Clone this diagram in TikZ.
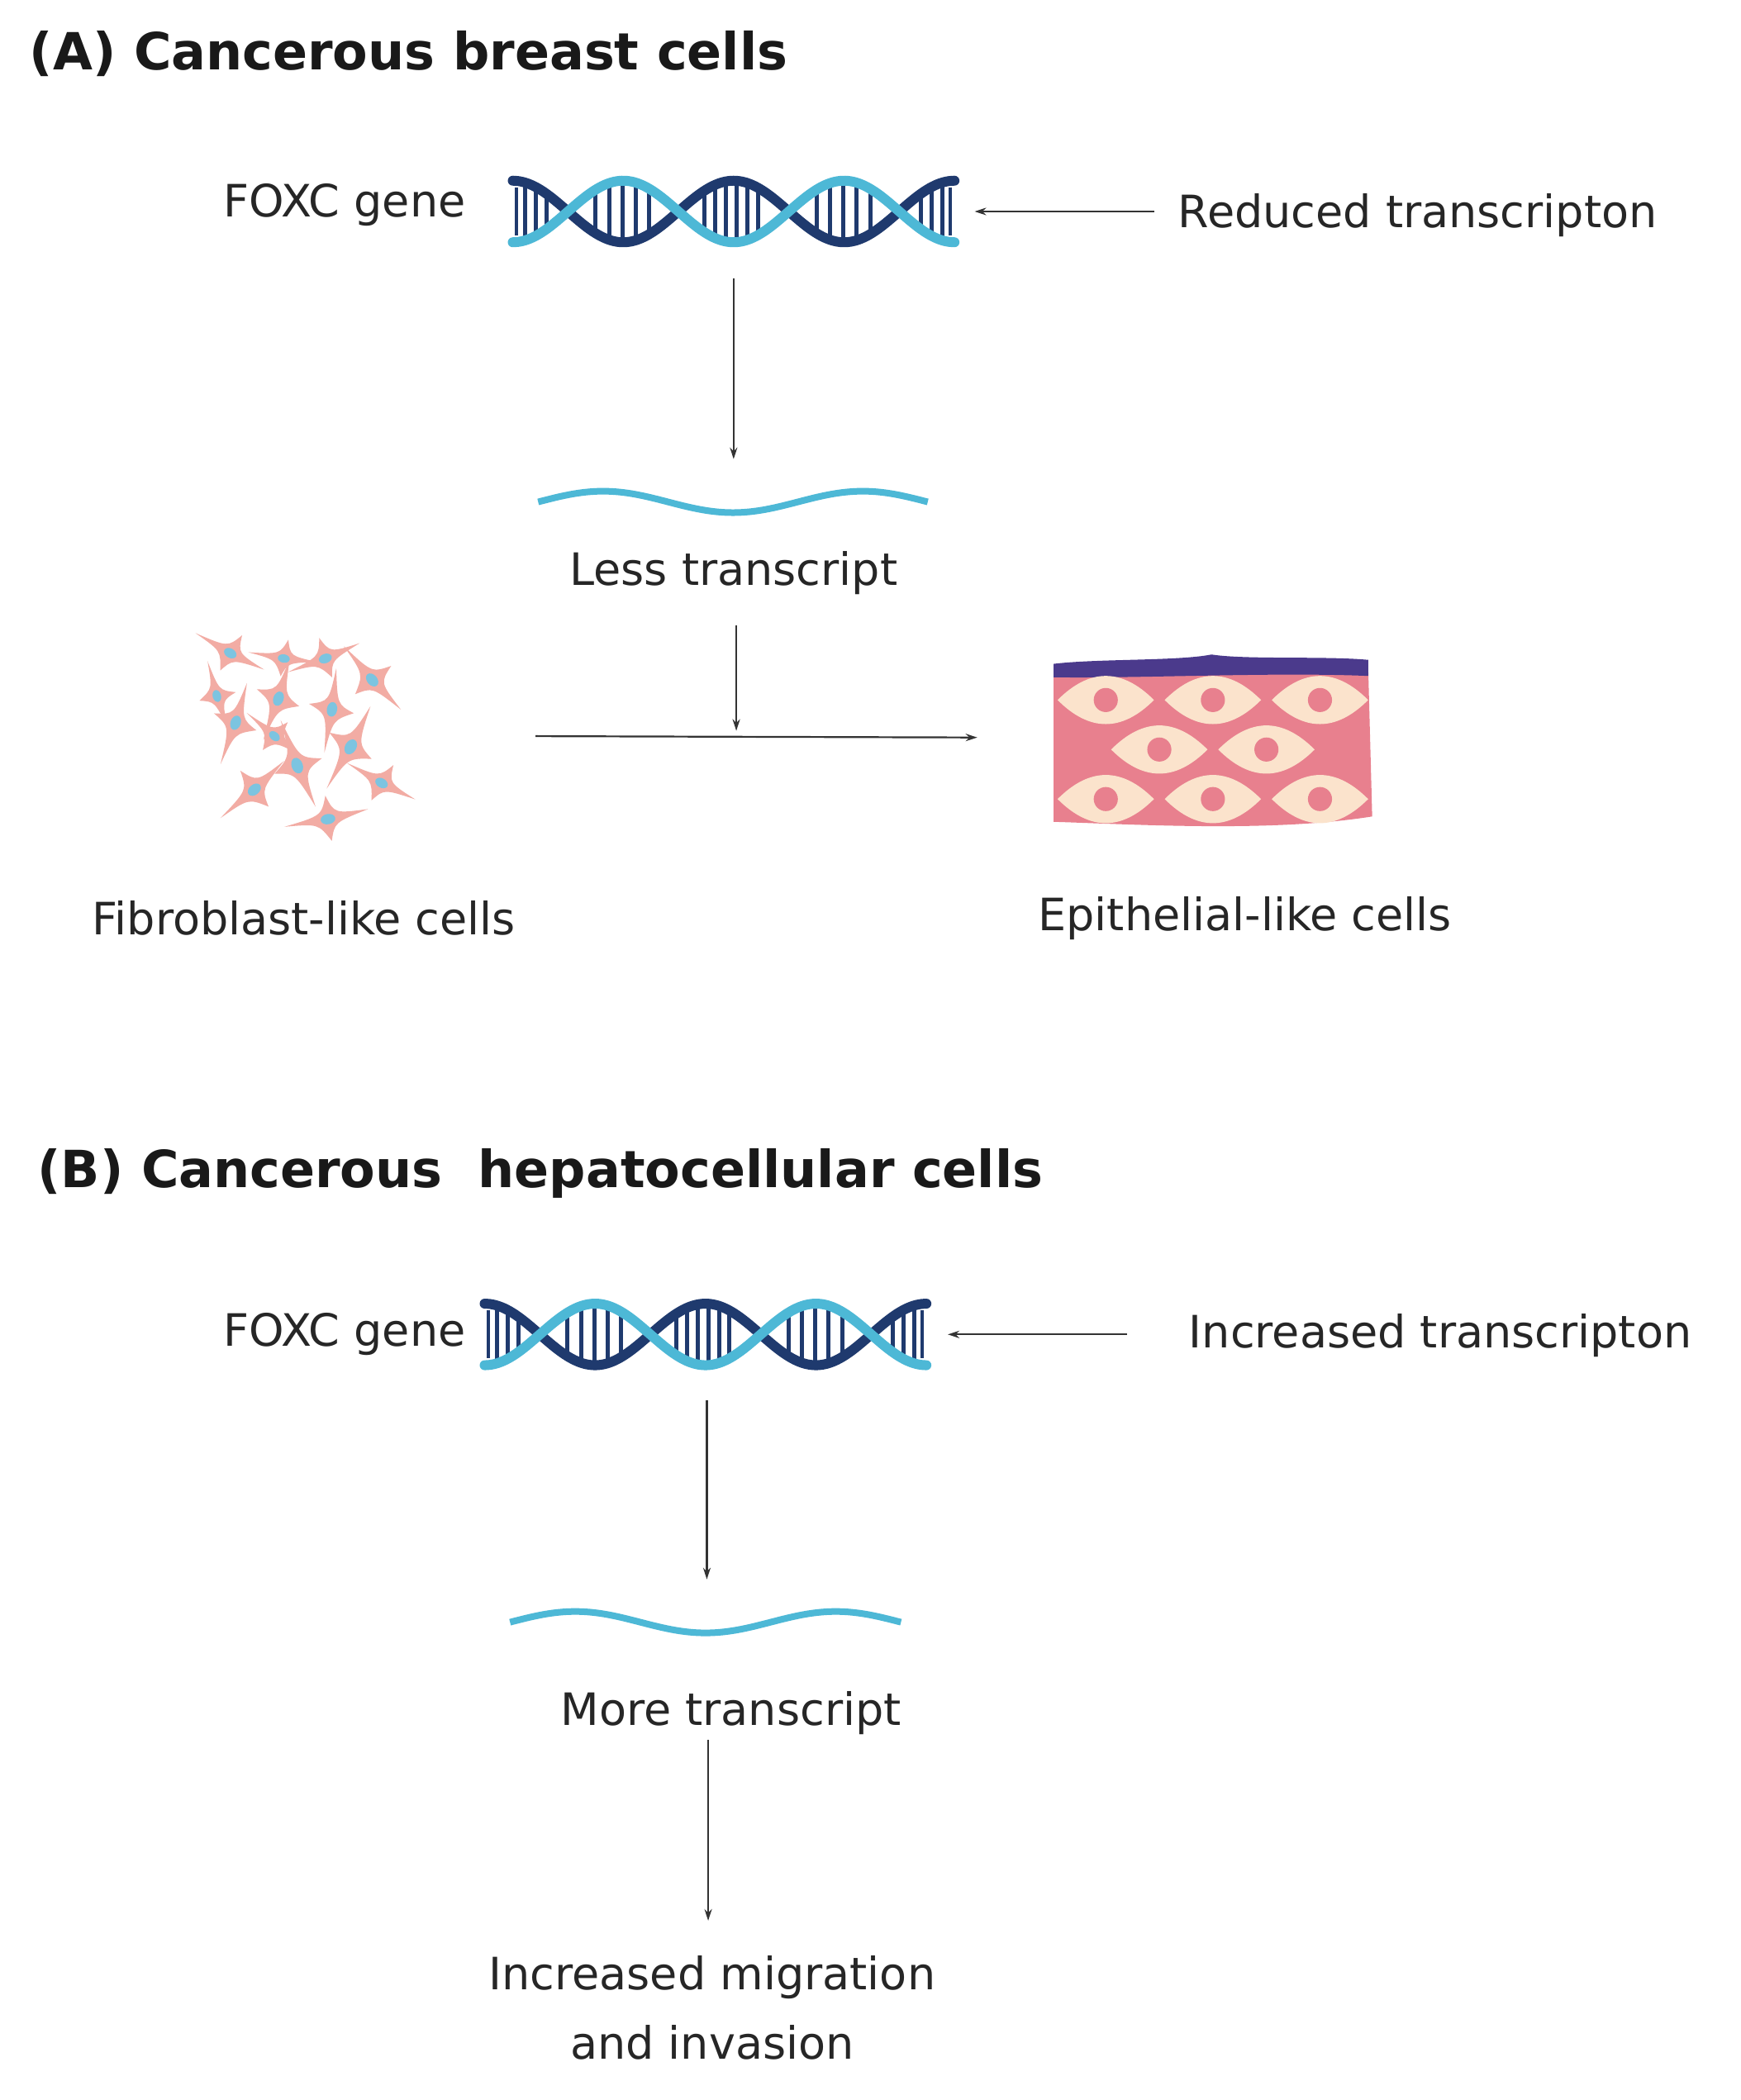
\documentclass[tikz,border=0pt]{standalone}
\usepackage{fontspec}
\setmainfont{DejaVu Sans}
\usetikzlibrary{arrows.meta}
\definecolor{navy}{HTML}{1F3A6E}
\definecolor{cyanb}{HTML}{4DB8D6}
\definecolor{fibro}{HTML}{F2ACA4}
\definecolor{nuc}{HTML}{7CC4E0}
\definecolor{epi}{HTML}{E8808E}
\definecolor{cream}{HTML}{FBE3CC}
\definecolor{purp}{HTML}{4B3A8C}
\begin{document}
\begin{tikzpicture}[x=1.62pt,y=-1.62pt,
  txt/.style={font=\fontsize{54}{64}\selectfont, text=black!85, inner sep=0pt},
  ttl/.style={font=\fontsize{62}{74}\selectfont\bfseries, text=black!90, inner sep=0pt, anchor=west},
  arr/.style={line width=2.2pt, black!80, -{Stealth[length=14pt,width=9pt]}},
  box/.style={inner sep=0pt, minimum width=#1, minimum height=95pt},
  wave/.style={cyanb, line width=8pt},
  pics/dna/.style={code={
    \foreach \r in {9,17,25,62,72,82,92,102,143,151,159,167,175,183,227,237,247,257,267,305,313,321}{
      \draw[navy, line width=5pt] (\r,{-20*cos(\r/165*360)}) -- (\r,{20*cos(\r/165*360)});}
    \draw[navy, line width=4pt] (3,-18) -- (3,18);
    \draw[navy, line width=4pt] (327,-18) -- (327,18);
    \draw[navy, line width=12pt, line cap=round] plot[domain=0:330,samples=90,smooth] (\x,{-23*cos(\x/165*360)});
    \draw[cyanb, line width=12pt, line cap=round] plot[domain=0:330,samples=90,smooth] (\x,{23*cos(\x/165*360)});
  }},
  pics/fcell/.style={code={
    \fill[fibro] (-30,0) .. controls (-7,2) .. (0,15) .. controls (4,3) .. (28,-2) .. controls (5,-3) .. (1,-16) .. controls (-4,-3) .. (-30,0);
    \fill[nuc] (0,0) ellipse (5 and 3.5);
  }},
  pics/eye/.style={code={
    \fill[cream] (-36,0) .. controls (-12,-24) and (12,-24) .. (36,0) .. controls (12,24) and (-12,24) .. (-36,0);
    \fill[epi] (0,0) circle (9);
  }}
]
\useasboundingbox (0,0) rectangle (1300,1569);
\fill[white] (0,0) rectangle (1300,1569);

% ---------- (A)
\node[ttl] (tA) at (22,40) {(A) Cancerous breast cells};
\node[txt, anchor=east] (fA) at (348,153) {FOXC gene};
\pic at (383,158) {dna};
\node[box=535pt] (dnaA) at (548,158) {};
\node[txt, anchor=west] (rA) at (880,161) {Reduced transcripton};
\draw[arr] (862,158) coordinate (rA0) -- (728,158) coordinate (dA1);
\draw[arr] (548,208) coordinate (dA2) -- (548,343) coordinate (wA0);
\draw[wave] plot[domain=402:693,samples=60,smooth] (\x,{375+8*sin((\x-402)/291*540+180)});
\node[txt] (lA) at (548,428) {Less transcript};
\draw[arr] (550,467) coordinate (lA1) -- (550,546) coordinate (hA);

% fibroblasts
\foreach \px/\py/\a/\s in {172/488/-30/1, 208/522/70/1.1, 243/492/20/1, 278/508/-50/1.1, 176/540/70/1.1, 222/572/-70/1.2, 262/558/60/1.2, 285/585/-30/1, 190/590/40/1.1, 245/612/10/1.1, 162/520/-75/0.9, 212/492/-10/0.9, 248/530/80/1.1, 205/550/-40/0.9}
  \pic[rotate=\a, scale=\s] at (\px,\py) {fcell};
\node[inner sep=0pt, minimum width=250pt, minimum height=260pt] (fib) at (228,550) {};
\draw[arr] (400,550) coordinate (h0) -- (730,551) coordinate (h1);

% epithelium
\fill[epi] (787,500) .. controls (850,497) and (950,503) .. (1022,498) -- (1025,610) .. controls (950,622) and (850,616) .. (787,614) -- cycle;
\fill[purp] (787,496) .. controls (820,492) and (880,494) .. (905,489) .. controls (930,493) and (990,490) .. (1022,493) -- (1022,505) .. controls (950,502) and (850,507) .. (787,506) -- cycle;
\foreach \ex/\ey in {826/523,906/523,986/523,866/560,946/560,826/597,906/597,986/597}
  \pic at (\ex,\ey) {eye};
\node[inner sep=0pt, minimum width=390pt, minimum height=200pt] (epiN) at (905,555) {};

\node[txt] (fl) at (227,686) {Fibroblast-like cells};
\node[txt] (el) at (930,686) {Epithelial-like cells};

% ---------- (B)
\node[ttl] (tB) at (28,877) {(B) Cancerous\ \ hepatocellular cells};
\node[txt, anchor=east] (fB) at (348,997) {FOXC gene};
\pic at (362,997) {dna};
\node[box=535pt] (dnaB) at (527,997) {};
\node[txt, anchor=west] (iB) at (888,998) {Increased transcripton};
\draw[arr] (842,997) coordinate (iB0) -- (708,997) coordinate (dB1);
\draw[arr] (528,1046) coordinate (dB2) -- (528,1180) coordinate (wB0);
\draw[wave] plot[domain=381:673,samples=60,smooth] (\x,{1212+8*sin((\x-381)/292*540+180)});
\node[txt] (mB) at (546,1280) {More transcript};
\draw[arr] (529,1300) coordinate (mB1) -- (529,1435) coordinate (iv0);
\node[txt, align=center, font=\fontsize{54}{84}\selectfont] (iv) at (532,1500) {Increased migration\\and invasion};
\end{tikzpicture}
\end{document}
